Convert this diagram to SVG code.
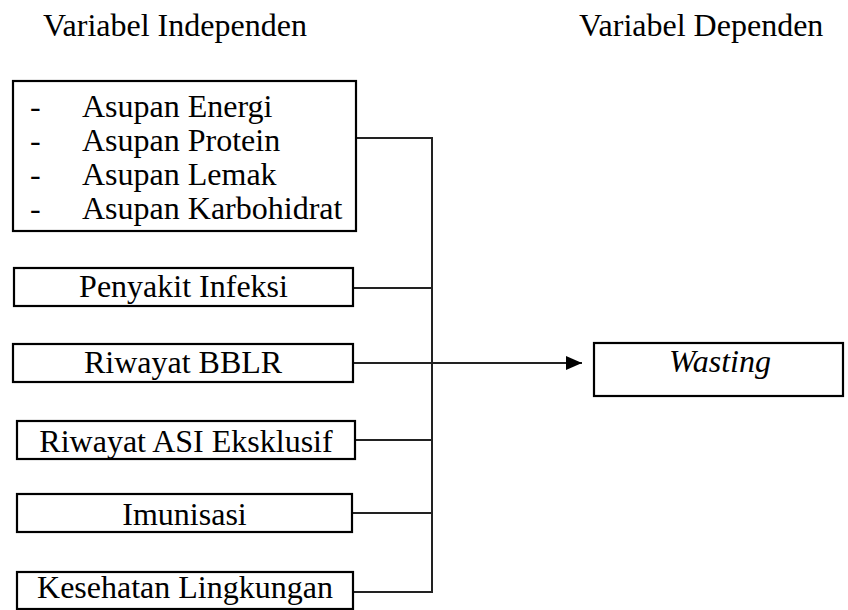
<svg xmlns="http://www.w3.org/2000/svg" width="848" height="610" viewBox="0 0 848 610">
<style>
.box{fill:#fff;stroke:#000;stroke-width:2.2}
.t{font-family:"Liberation Serif","Times New Roman",serif;font-size:32px;fill:#000}
.c{text-anchor:middle}
.ln{stroke:#222;stroke-width:2;fill:none}
</style>
<defs>
<marker id="ah" markerWidth="16" markerHeight="14" refX="16" refY="7" orient="auto" markerUnits="userSpaceOnUse">
<path d="M0,0 L16,7 L0,14 z" fill="#000"/>
</marker>
</defs>
<text class="t" x="43" y="36">Variabel Independen</text>
<text class="t" x="579" y="36">Variabel Dependen</text>
<g id="connectors">
<line class="ln" x1="356" y1="138" x2="432" y2="138"/>
<line class="ln" x1="353" y1="288" x2="432" y2="288"/>
<line class="ln" x1="353" y1="363" x2="582" y2="363" marker-end="url(#ah)"/>
<line class="ln" x1="355" y1="440" x2="432" y2="440"/>
<line class="ln" x1="352" y1="513" x2="432" y2="513"/>
<line class="ln" x1="353" y1="592" x2="432" y2="592"/>
<line class="ln" x1="432" y1="137" x2="432" y2="593"/>
</g>
<g id="asupan">
<rect class="box" x="13" y="81" width="343" height="150"/>
<text class="t" x="30" y="117">-</text><text class="t" x="82" y="117">Asupan Energi</text>
<text class="t" x="30" y="151">-</text><text class="t" x="82" y="151">Asupan Protein</text>
<text class="t" x="30" y="185">-</text><text class="t" x="82" y="185">Asupan Lemak</text>
<text class="t" x="30" y="219">-</text><text class="t" x="82" y="219">Asupan Karbohidrat</text>
</g>
<g id="infeksi">
<rect class="box" x="14" y="268" width="339" height="38"/>
<text class="t c" x="183.5" y="297">Penyakit Infeksi</text>
</g>
<g id="bblr">
<rect class="box" x="13" y="344" width="340" height="38"/>
<text class="t c" x="183" y="373">Riwayat BBLR</text>
</g>
<g id="asi">
<rect class="box" x="17" y="421" width="338" height="38"/>
<text class="t c" x="186" y="452">Riwayat ASI Eksklusif</text>
</g>
<g id="imunisasi">
<rect class="box" x="17" y="494" width="335" height="38"/>
<text class="t c" x="184.5" y="525">Imunisasi</text>
</g>
<g id="lingkungan">
<rect class="box" x="17" y="572" width="336" height="37"/>
<text class="t c" x="185" y="598">Kesehatan Lingkungan</text>
</g>
<g id="wasting">
<rect class="box" x="594" y="343" width="249" height="53"/>
<text class="t c" x="720" y="372" font-style="italic">Wasting</text>
</g>
</svg>
